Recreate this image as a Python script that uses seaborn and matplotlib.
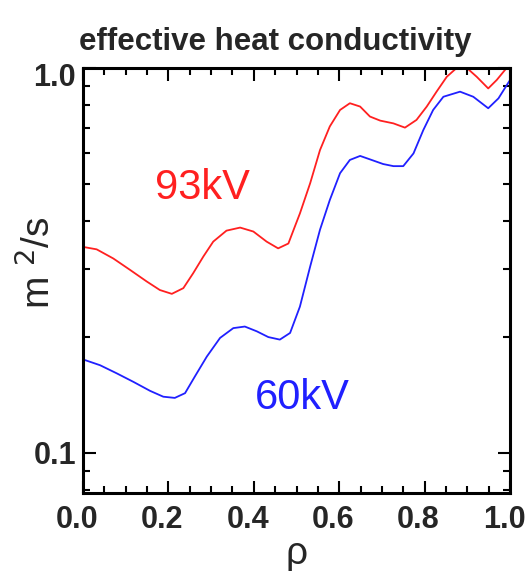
import matplotlib
matplotlib.use("Agg")
import matplotlib.pyplot as plt
import matplotlib.ticker as mticker
import matplotlib.transforms as mtrans
import seaborn as sns
import pandas as pd
import numpy as np

# data
rho_93 = [0.0, 0.032, 0.071, 0.110, 0.149, 0.180, 0.208, 0.235, 0.258, 0.282, 0.305,
          0.336, 0.368, 0.399, 0.430, 0.457, 0.481, 0.496, 0.508, 0.532, 0.555,
          0.578, 0.602, 0.625, 0.649, 0.672, 0.696, 0.727, 0.754, 0.781, 0.805,
          0.828, 0.852, 0.875, 0.887, 0.899, 0.922, 0.949, 0.969, 0.992, 1.0]
chi_93 = [0.343, 0.338, 0.320, 0.299, 0.279, 0.265, 0.259, 0.268, 0.293, 0.324, 0.354,
          0.378, 0.385, 0.376, 0.354, 0.340, 0.350, 0.387, 0.419, 0.502, 0.612,
          0.705, 0.778, 0.810, 0.794, 0.748, 0.730, 0.718, 0.700, 0.733, 0.794,
          0.868, 0.949, 1.0, 1.03, 1.0, 0.949, 0.885, 0.931, 1.0, 1.03]
rho_60 = [0.0, 0.040, 0.079, 0.118, 0.157, 0.188, 0.215, 0.239, 0.262, 0.290, 0.321,
          0.352, 0.379, 0.407, 0.434, 0.461, 0.485, 0.508, 0.532, 0.555, 0.578,
          0.602, 0.625, 0.649, 0.672, 0.703, 0.727, 0.750, 0.774, 0.797, 0.820,
          0.844, 0.883, 0.914, 0.949, 0.973, 0.995, 1.0, 1.0]
chi_60 = [0.175, 0.169, 0.161, 0.153, 0.145, 0.140, 0.139, 0.143, 0.158, 0.178, 0.199,
          0.211, 0.213, 0.207, 0.200, 0.197, 0.205, 0.240, 0.305, 0.380, 0.454,
          0.533, 0.577, 0.591, 0.579, 0.563, 0.556, 0.556, 0.600, 0.690, 0.778,
          0.842, 0.868, 0.842, 0.786, 0.834, 0.912, 0.93, 1.03]
series_labels = ["93kV", "60kV"]
series_colors = ["#ff2020", "#2020ff"]
x_ticks = [0.0, 0.2, 0.4, 0.6, 0.8, 1.0]
x_tick_labels = ["0.0", "0.2", "0.4", "0.6", "0.8", "1.0"]
y_ticks = [0.1, 1.0]
y_tick_labels = ["0.1", "1.0"]

df = pd.concat([
    pd.DataFrame({"rho": rho_93, "chi": chi_93, "beam": series_labels[0]}),
    pd.DataFrame({"rho": rho_60, "chi": chi_60, "beam": series_labels[1]}),
])

sns.set_theme(style="white")
plt.rcParams["font.family"] = ["Liberation Sans", "DejaVu Sans"]
narrow = ["Liberation Sans Narrow", "Liberation Sans", "DejaVu Sans"]

fig = plt.figure(figsize=(5.29, 5.71), dpi=100)
ax = fig.add_axes([83 / 529, 1 - 493 / 571, 427 / 529, 425 / 571])

sns.lineplot(data=df, x="rho", y="chi", hue="beam", palette=series_colors,
             hue_order=series_labels, estimator=None, sort=False, units="beam",
             legend=False, linewidth=1.3, ax=ax)

ax.set_yscale("log")
ax.set_xlim(0, 1)
ax.set_ylim(0.0787, 1.0)

ax.set_xticks(x_ticks)
ax.set_xticklabels(x_tick_labels)
ax.xaxis.set_minor_locator(mticker.MultipleLocator(0.05))
ax.set_yticks(y_ticks)
ax.set_yticklabels(y_tick_labels)
ax.yaxis.set_minor_locator(mticker.LogLocator(base=10, subs=np.arange(2, 10)))
ax.yaxis.set_minor_formatter(mticker.NullFormatter())

ax.tick_params(which="both", direction="in", top=True, right=True, bottom=True, left=True,
               color="black", width=1.5)
ax.tick_params(which="major", length=9)
ax.tick_params(axis="x", which="major", pad=9)
ax.tick_params(axis="y", which="major", pad=5)
ax.tick_params(which="minor", length=5)

for lab in ax.get_xticklabels() + ax.get_yticklabels():
    lab.set_family(narrow)
    lab.set_fontweight("bold")
    lab.set_fontsize(22)

# small offsets as in the reference
xshift = mtrans.ScaledTranslation(-6 / 100, 0, fig.dpi_scale_trans)
for lab in ax.get_xticklabels():
    lab.set_transform(lab.get_transform() + xshift)
yshift = mtrans.ScaledTranslation(0, -6 / 100, fig.dpi_scale_trans)
ax.get_yticklabels()[1].set_transform(ax.get_yticklabels()[1].get_transform() + yshift)

for sp in ax.spines.values():
    sp.set_visible(True)
    sp.set_color("black")
    sp.set_linewidth(2.2)

ax.set_xlabel("ρ", fontsize=28, labelpad=0)
ax.set_ylabel("m $^{2}$/s", fontsize=28)
ax.yaxis.set_label_coords(-0.058, 0.541)

ax.set_title("effective heat conductivity", family=narrow, fontweight="bold",
             fontsize=22.5, pad=13, x=0.45)

ax.text(0.279, 0.718, series_labels[0], color=series_colors[0], fontsize=30,
        ha="center", va="center", transform=ax.transAxes)
ax.text(0.513, 0.2235, series_labels[1], color=series_colors[1], fontsize=30,
        ha="center", va="center", transform=ax.transAxes)

ax.grid(False)
fig.savefig("out.png", dpi=100)
